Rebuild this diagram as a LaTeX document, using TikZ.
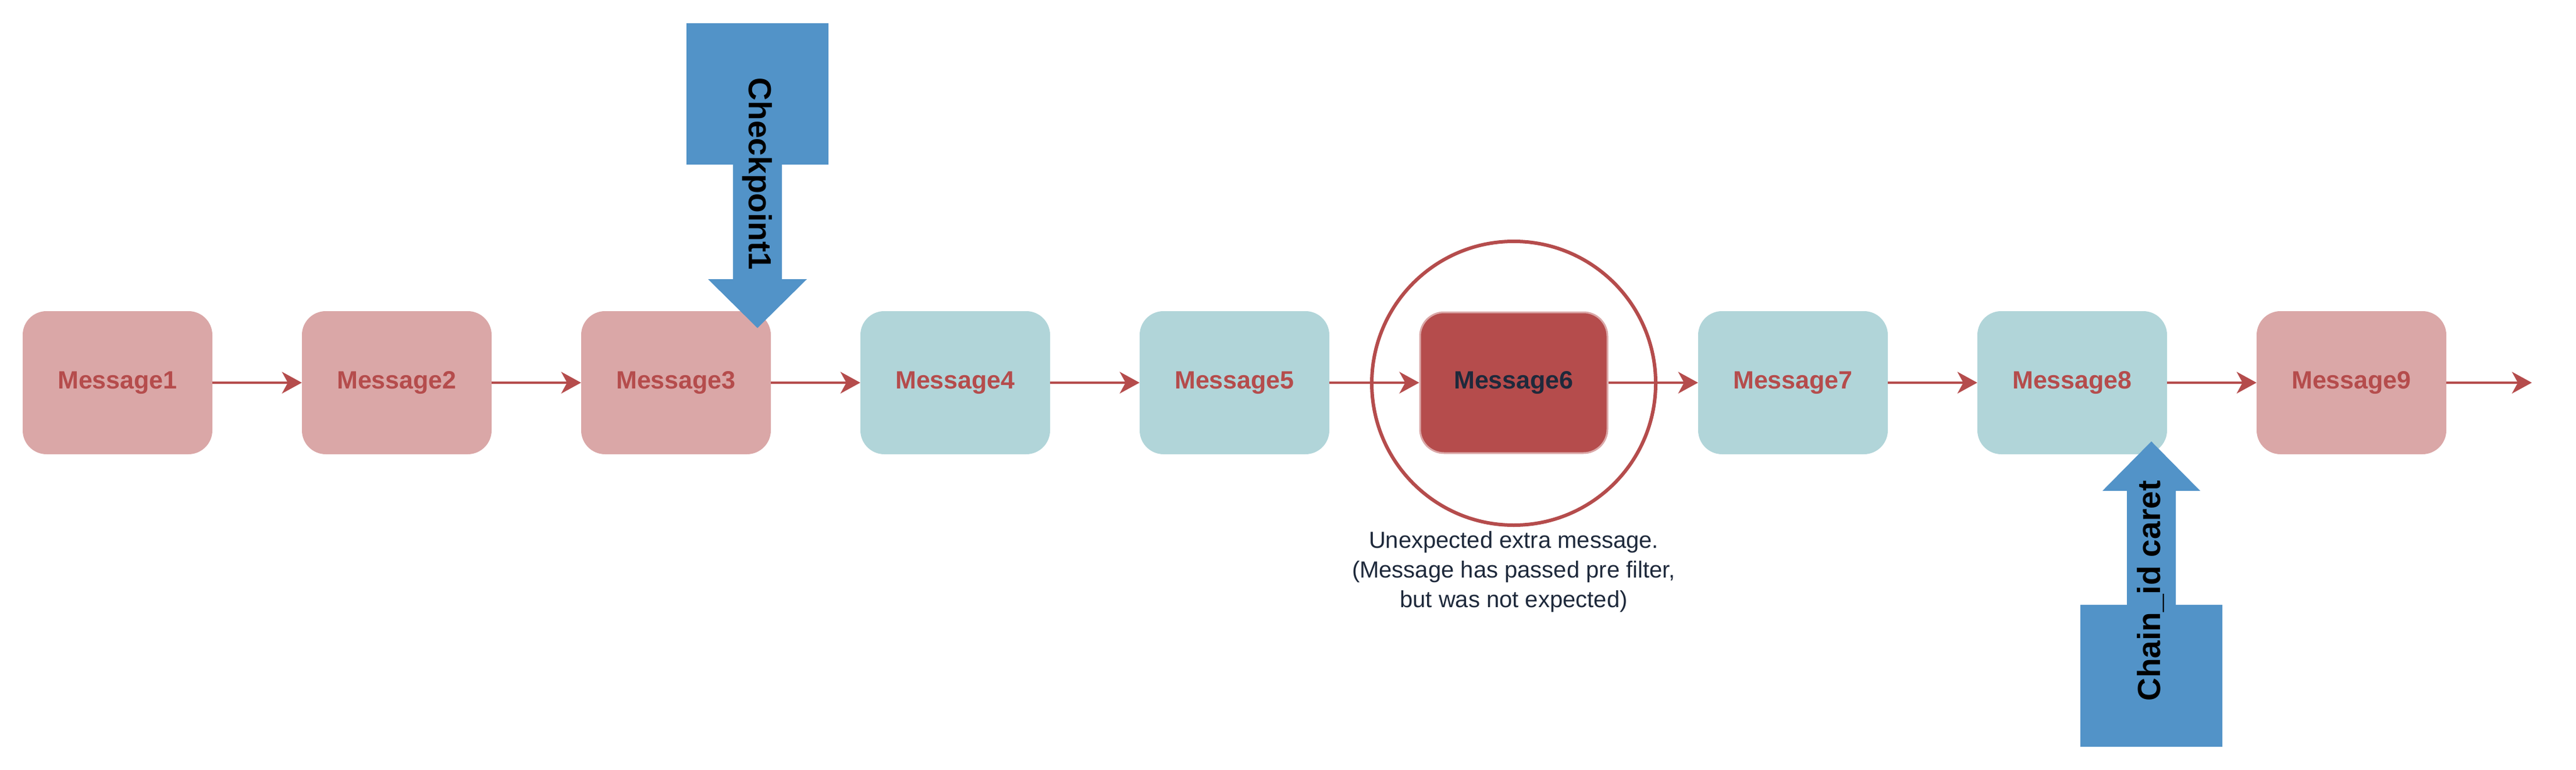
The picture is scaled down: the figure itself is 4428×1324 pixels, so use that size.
\documentclass[tikz,border=0pt]{standalone}
\usepackage{fontspec}
\setmainfont{Liberation Sans}
\usetikzlibrary{arrows.meta}
\definecolor{pinkbox}{RGB}{218,167,167}
\definecolor{tealbox}{RGB}{177,213,217}
\definecolor{redc}{RGB}{181,76,76}
\definecolor{bluec}{RGB}{82,147,200}
\definecolor{navy}{RGB}{30,41,59}
\begin{document}
\begin{tikzpicture}[x=1pt,y=-1pt,
  msg/.style={rounded corners=41pt, minimum width=326pt, minimum height=246pt, inner sep=0pt,
    font=\fontsize{43}{50}\selectfont\bfseries, text=redc},
  pinkmsg/.style={msg, fill=pinkbox},
  tealmsg/.style={msg, fill=tealbox},
  badmsg/.style={msg, fill=redc, draw=pinkbox, line width=3pt, text=navy,
    minimum width=322pt, minimum height=242pt},
  flow/.style={draw=redc, line width=4.5pt, -{Stealth[length=34pt,width=37pt,inset=10pt]}},
  bigarrow/.style={fill=bluec},
  arrowlabel/.style={font=\fontsize{55}{60}\selectfont\bfseries, text=black, inner sep=0pt},
  ring/.style={draw=redc, line width=6pt},
  caption/.style={font=\fontsize{40}{51}\selectfont, text=navy, align=center},
]
\useasboundingbox[fill=white] (0,0) rectangle (4428,1324);

% highlight circle
\draw[ring] (2602,659) circle[radius=244];

% message boxes
\node[pinkmsg] (m1) at (202,658) {Message1};
\node[pinkmsg] (m2) at (682,658) {Message2};
\node[pinkmsg] (m3) at (1162,658) {Message3};
\node[tealmsg] (m4) at (1642,658) {Message4};
\node[tealmsg] (m5) at (2122,658) {Message5};
\node[badmsg]  (m6) at (2602,658) {Message6};
\node[tealmsg] (m7) at (3082,658) {Message7};
\node[tealmsg] (m8) at (3562,658) {Message8};
\node[pinkmsg] (m9) at (4042,658) {Message9};
\coordinate (end) at (4352,658);

% connectors
\draw[flow] (m1) -- (m2);
\draw[flow] (m2) -- (m3);
\draw[flow] (m3) -- (m4);
\draw[flow] (m4) -- (m5);
\draw[flow] (m5) -- (m6);
\draw[flow] (m6) -- (m7);
\draw[flow] (m7) -- (m8);
\draw[flow] (m8) -- (m9);
\draw[flow] (m9) -- (end);

% checkpoint arrow
\fill[bigarrow] (1180,40) -- (1424,40) -- (1424,283) -- (1344,283) -- (1344,480) -- (1387,480)
  -- (1302,564) -- (1217,480) -- (1260,480) -- (1260,283) -- (1180,283) -- cycle;
\node[arrowlabel, rotate=-90] (cp) at (1302,299) {Checkpoint1};

% chain_id caret arrow
\fill[bigarrow] (3576,1284) -- (3820,1284) -- (3820,1040) -- (3740,1040) -- (3740,844) -- (3782,844)
  -- (3698,759) -- (3614,844) -- (3656,844) -- (3656,1040) -- (3576,1040) -- cycle;
\node[arrowlabel, rotate=90] (cc) at (3697,1016) {Chain\_id caret};

% caption
\node[caption] (cap) at (2602,983) {Unexpected extra message.\\(Message has passed pre filter,\\but was not expected)};
\end{tikzpicture}
\end{document}
